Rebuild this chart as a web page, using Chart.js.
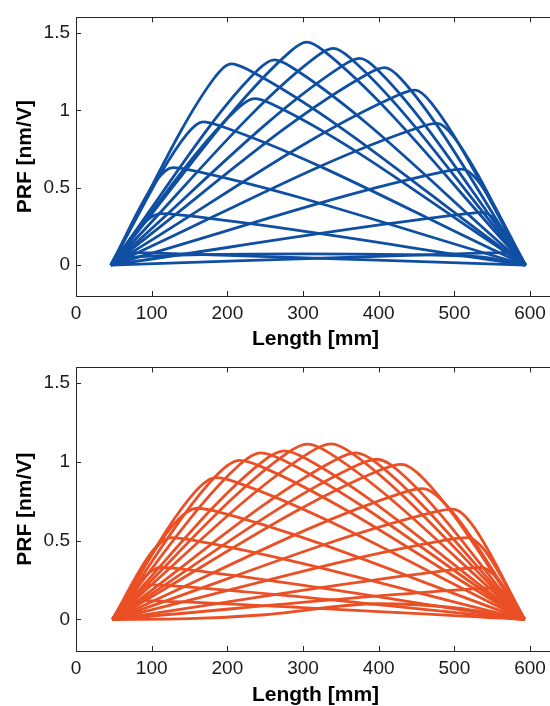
<!DOCTYPE html>
<html>
<head>
<meta charset="utf-8">
<script src="https://cdn.jsdelivr.net/npm/chart.js@4.4.0/dist/chart.umd.min.js"></script>
<style>
  html, body { margin: 0; padding: 0; background: #fff; overflow: hidden; width: 550px; height: 706px; }
  canvas { position: absolute; left: 0; }
  #topChart { top: 0; }
  #bottomChart { top: 350px; }
</style>
</head>
<body>
<canvas id="topChart" width="600" height="350"></canvas>
<canvas id="bottomChart" width="600" height="356"></canvas>
<script>
// axis labels and ticks
const xLabel = 'Length [mm]';
const yLabel = 'PRF [nm/V]';
const xTicks = [0, 100, 200, 300, 400, 500, 600];
const yTicks = [0, 0.5, 1, 1.5];

// top panel (blue): one [x, y] list per curve
const topCurves = [
    [[46,0],[63,0.063],[75,0.08],[97,0.078],[594,0]],
    [[46,0],[94,0.29],[113,0.332],[140,0.322],[594,0]],
    [[46,0],[106,0.545],[128,0.63],[150,0.615],[594,0]],
    [[46,0],[146,0.842],[168,0.925],[190,0.90],[594,0]],
    [[46,0],[183,1.21],[205,1.30],[227,1.263],[594,0]],
    [[46,0],[214,1.013],[236,1.075],[258,1.042],[594,0]],
    [[46,0],[240,1.258],[262,1.325],[284,1.281],[594,0]],
    [[46,0],[283,1.379],[305,1.44],[327,1.385],[594,0]],
    [[46,0],[318,1.348],[340,1.40],[362,1.339],[594,0]],
    [[46,0],[353,1.29],[375,1.335],[397,1.268],[594,0]],
    [[46,0],[386,1.236],[408,1.275],[430,1.20],[594,0]],
    [[46,0],[426,1.099],[448,1.13],[470,1.045],[594,0]],
    [[46,0],[455,0.892],[477,0.915],[499,0.829],[594,0]],
    [[46,0],[488,0.605],[510,0.62],[532,0.539],[594,0]],
    [[46,0],[514,0.33],[538,0.34],[554,0.291],[594,0]],
    [[46,0],[543,0.078],[565,0.08],[578,0.062],[594,0]],
    [[46,0],[70,0.05],[300,0.072],[530,0.055],[594,0]]
];

// bottom panel (orange)
const bottomCurves = [
    [[48,0],[71,0.098],[85,0.12],[113,0.117],[593,0]],
    [[48,0],[82,0.182],[100,0.22],[128,0.214],[593,0]],
    [[48,0],[92,0.278],[112,0.33],[140,0.32],[593,0]],
    [[48,0],[102,0.44],[126,0.52],[154,0.504],[593,0]],
    [[48,0],[132,0.618],[160,0.706],[188,0.683],[593,0]],
    [[48,0],[157,0.808],[185,0.90],[213,0.869],[593,0]],
    [[48,0],[188,0.926],[216,1.01],[244,0.972],[593,0]],
    [[48,0],[216,0.982],[244,1.058],[272,1.016],[593,0]],
    [[48,0],[247,1.004],[275,1.07],[303,1.023],[593,0]],
    [[48,0],[278,1.053],[306,1.113],[334,1.059],[593,0]],
    [[48,0],[309,1.061],[337,1.115],[365,1.054],[593,0]],
    [[48,0],[342,1.011],[370,1.057],[398,0.991],[593,0]],
    [[48,0],[370,0.976],[398,1.017],[426,0.944],[593,0]],
    [[48,0],[402,0.949],[430,0.985],[458,0.90],[593,0]],
    [[48,0],[430,0.802],[458,0.83],[486,0.744],[593,0]],
    [[48,0],[470,0.678],[498,0.70],[522,0.612],[593,0]],
    [[48,0],[490,0.505],[518,0.52],[538,0.451],[593,0]],
    [[48,0],[507,0.32],[535,0.33],[553,0.279],[593,0]],
    [[48,0],[524,0.194],[552,0.2],[566,0.166],[593,0]],
    [[48,0],[150,0.005],[250,0.03],[400,0.10],[500,0.075],[593,0]]
];

const fontFamily = '"Liberation Sans", Arial, Helvetica, sans-serif';
const tickFont = { family: fontFamily, size: 19 };
const titleFont = { family: fontFamily, size: 21, weight: 'bold', lineHeight: 1 };

// MATLAB style box with inward ticks on all four sides
const boxPlugin = {
    id: 'matlabBox',
    afterDraw(chart) {
        const ctx = chart.ctx;
        const a = chart.chartArea;
        const xs = chart.scales.x, ys = chart.scales.y;
        ctx.save();
        ctx.strokeStyle = '#262626';
        ctx.lineWidth = 1;
        ctx.strokeRect(Math.round(a.left) + 0.5, Math.round(a.top) + 0.5,
            Math.round(a.right - a.left), Math.round(a.bottom - a.top));
        ctx.beginPath();
        xTicks.forEach(function (v) {
            const px = Math.round(xs.getPixelForValue(v)) + 0.5;
            ctx.moveTo(px, a.bottom); ctx.lineTo(px, a.bottom - 5);
            ctx.moveTo(px, a.top); ctx.lineTo(px, a.top + 5);
        });
        yTicks.forEach(function (v) {
            const py = Math.round(ys.getPixelForValue(v)) + 0.5;
            ctx.moveTo(a.left, py); ctx.lineTo(a.left + 5, py);
            ctx.moveTo(a.right, py); ctx.lineTo(a.right - 5, py);
        });
        ctx.stroke();
        ctx.restore();
    }
};

function makeChart(id, curves, color, padTop, xAxisHeight) {
    const datasets = curves.map(function (c) {
        return {
            data: c.map(p => ({ x: p[0], y: p[1] })),
            borderColor: color,
            borderWidth: 2.8,
            pointRadius: 0,
            fill: false,
            cubicInterpolationMode: 'monotone'
        };
    });

    return new Chart(document.getElementById(id), {
        type: 'line',
        data: { datasets: datasets },
        options: {
            responsive: false,
            animation: false,
            events: [],
            layout: { padding: { top: padTop, right: 45, bottom: 0, left: 0 } },
            plugins: { legend: { display: false }, tooltip: { enabled: false } },
            scales: {
                x: {
                    type: 'linear',
                    min: 0,
                    max: 633,
                    grid: { display: false, drawTicks: false },
                    border: { display: false },
                    afterBuildTicks: s => { s.ticks = xTicks.map(v => ({ value: v })); },
                    afterFit: s => { s.height = xAxisHeight; },
                    ticks: { padding: 6, color: '#1a1a1a', font: tickFont, maxRotation: 0, autoSkip: false, callback: v => String(v) },
                    title: { display: true, text: xLabel, color: '#000', font: titleFont, padding: { top: 0, bottom: 0 } }
                },
                y: {
                    type: 'linear',
                    min: -0.2,
                    max: 1.6,
                    grid: { display: false, drawTicks: false },
                    border: { display: false },
                    afterBuildTicks: s => { s.ticks = yTicks.map(v => ({ value: v })); },
                    afterFit: s => { s.width = 76; },
                    ticks: { padding: 6, color: '#1a1a1a', font: tickFont, autoSkip: false, callback: v => String(v) },
                    title: { display: true, text: yLabel, color: '#000', font: titleFont, padding: { top: 14.5, bottom: 0 } }
                }
            }
        },
        plugins: [boxPlugin]
    });
}

makeChart('topChart', topCurves, '#0f4fa3', 12, 54);
makeChart('bottomChart', bottomCurves, '#ea4f25', 16, 55);
</script>
</body>
</html>
